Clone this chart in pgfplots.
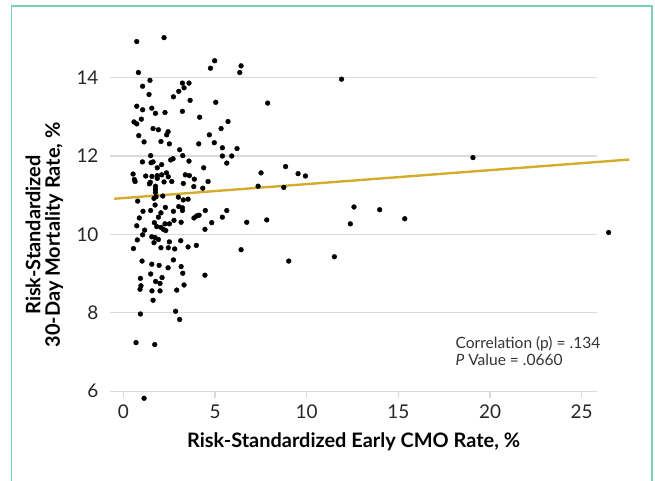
\documentclass[border=0pt]{standalone}
\usepackage{pgfplots}
\pgfplotsset{compat=1.18}
\usepackage{fontspec}
\setmainfont{Lato}
\definecolor{framec}{RGB}{120,208,182}
\definecolor{gold}{RGB}{212,172,44}
\definecolor{gridc}{RGB}{218,218,218}
\begin{document}
\begin{tikzpicture}
\begin{axis}[
  scale only axis, width=487bp, height=360.6bp,
  xmin=-0.73, xmax=25.84, ymin=6, ymax=15.2,
  clip=false,
  axis line style={draw=none},
  xtick={0,5,...,25}, ytick={6,8,...,14},
  xtick pos=lower, ytick pos=left,
  tick align=outside, major tick length=7bp,
  xtick style={gridc, line width=1.2bp},
  ytick style={draw=none},
  ymajorgrids, grid style={gridc, line width=1.2bp},
  ticklabel style={font=\fontsize{19}{21}\selectfont, text=black!85},
  xticklabel style={yshift=-3bp},
  yticklabel style={xshift=-1bp},
  /pgf/number format/assume math mode=true,
  xlabel={Risk-Standardized Early CMO Rate, \%},
  xlabel style={font=\fontsize{20}{21}\selectfont\bfseries, at={(axis description cs:0.5,-0.1572)}, anchor=base},
  ylabel={Risk-Standardized\\30-Day Mortality Rate, \%},
  ylabel style={font=\fontsize{20}{19.5}\selectfont\bfseries, align=center, at={(axis description cs:-0.1345,0.4334)}, anchor=center},
]
\addplot[gold, line width=2.4bp] coordinates {(-0.5,10.91) (27.6,11.91)};
\addplot[only marks, mark=*, mark size=2.4bp, black] table {
x y
0.73 14.92
2.22 15.02
0.82 14.13
4.75 14.24
4.98 14.43
6.35 14.13
6.42 14.30
1.45 13.93
1.05 13.78
3.22 13.86
3.58 13.86
3.31 13.74
3.02 13.65
2.73 13.51
1.40 13.57
3.64 13.42
5.04 13.37
7.87 13.35
0.73 13.27
1.05 13.18
1.55 13.22
1.75 13.09
2.27 13.11
3.22 13.14
4.16 12.99
0.98 12.94
0.58 12.87
0.73 12.82
5.71 12.88
5.33 12.70
1.62 12.70
1.91 12.67
2.44 12.62
2.36 12.54
0.84 12.52
4.69 12.54
1.13 12.36
2.05 12.37
2.51 12.31
4.11 12.31
4.96 12.34
5.40 12.21
6.20 12.19
3.07 12.16
3.24 12.01
5.40 12.00
5.91 12.00
1.49 12.01
1.04 11.85
5.64 11.82
2.71 11.93
2.58 11.90
3.58 11.87
1.51 11.83
1.62 11.85
2.09 11.78
1.85 11.70
4.38 11.70
7.51 11.57
0.53 11.54
0.60 11.40
0.64 11.35
1.22 11.49
1.56 11.48
1.85 11.50
1.85 11.43
2.35 11.57
2.45 11.47
2.09 11.52
3.38 11.52
3.60 11.50
3.87 11.41
2.64 11.35
2.22 11.34
1.42 11.29
1.47 11.33
3.27 11.30
3.84 11.22
4.62 11.35
4.33 11.18
7.35 11.23
1.75 11.23
1.75 11.15
1.75 11.07
1.78 10.96
2.15 10.98
3.00 10.95
3.27 10.88
3.53 10.90
0.78 10.85
1.67 10.92
1.73 10.75
2.29 10.69
3.02 10.71
3.22 10.68
3.22 10.61
1.07 10.59
1.49 10.61
2.05 10.55
2.73 10.59
4.47 10.61
5.64 10.61
0.87 10.42
1.91 10.44
3.85 10.42
4.13 10.49
4.00 10.47
5.40 10.44
7.82 10.37
6.73 10.31
4.82 10.30
3.15 10.31
1.69 10.30
0.73 10.22
2.76 10.36
2.51 10.27
2.27 10.27
2.05 10.18
2.18 10.13
2.31 10.10
1.82 10.20
1.16 10.11
1.05 9.99
4.45 10.13
1.55 9.94
1.73 9.92
1.91 9.87
0.76 9.86
1.67 9.79
2.51 9.81
3.13 9.84
0.55 9.64
2.05 9.66
2.45 9.66
2.80 9.63
3.53 9.68
3.98 9.72
6.42 9.61
1.02 9.32
1.55 9.24
1.95 9.21
2.73 9.35
3.15 9.18
2.44 9.15
3.24 9.01
1.49 8.99
2.11 8.90
4.45 8.96
0.93 8.88
1.76 8.80
2.00 8.75
3.31 8.71
0.96 8.69
0.91 8.60
1.56 8.56
2.00 8.56
2.91 8.58
1.62 8.32
0.93 7.97
2.85 8.04
3.07 7.83
0.69 7.24
1.71 7.19
1.13 5.82
11.90 13.96
8.85 11.73
9.53 11.55
9.93 11.49
8.75 11.20
12.58 10.70
12.38 10.27
9.02 9.32
11.51 9.43
19.07 11.96
13.98 10.63
15.35 10.40
26.47 10.05
};
\node[anchor=base west, font=\fontsize{15.6}{18}\selectfont, text=black!80] at (axis cs:17.93,7.097) {Correlation (p) = .134};
\node[anchor=base west, font=\fontsize{15.6}{18}\selectfont, text=black!80] at (axis cs:17.93,6.645) {\textit{P} Value = .0660};
\coordinate (BBsw) at (axis cs:-6.73,3.712);
\coordinate (BBne) at (axis cs:29.0,15.98);
\draw[framec, line width=1.4bp] (axis cs:-6.10,3.712) -- (axis cs:-6.10,15.83) -- (axis cs:28.84,15.83) -- (axis cs:28.84,3.712);
\end{axis}
\pgfresetboundingbox
\useasboundingbox (BBsw) rectangle (BBne);
\end{tikzpicture}
\end{document}
